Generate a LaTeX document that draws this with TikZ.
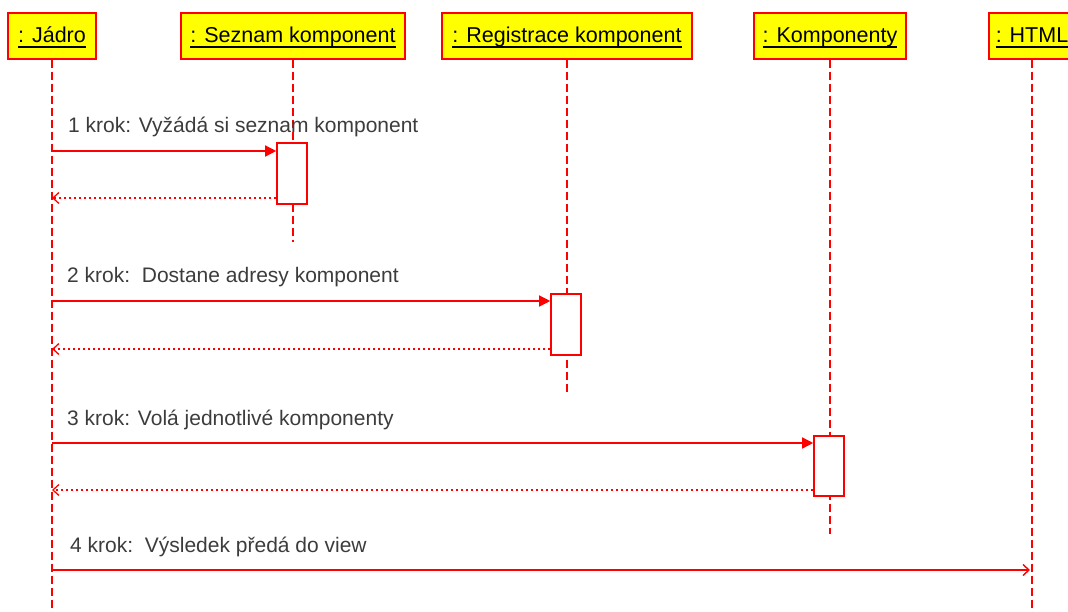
\documentclass[tikz,border=0pt]{standalone}
\usepackage{fontspec}
\setmainfont{Liberation Sans}
\usetikzlibrary{arrows.meta}
\definecolor{umlred}{HTML}{FF0000}
\definecolor{umlyellow}{HTML}{FFFF00}
\definecolor{msggray}{HTML}{3C3C3C}
% underlined object name, rule at a fixed depth below the baseline
\newcommand\objname[1]{\setbox0\hbox{#1}\rlap{\rule[-4.6pt]{\wd0}{1.3pt}}\box0}
\begin{document}
\begin{tikzpicture}[x=1pt,y=-1pt,
  obj/.style={draw=umlred, fill=umlyellow, line width=1.3pt, minimum height=46pt,
    inner sep=0pt, text height=16pt, text depth=2pt, text=black,
    font=\fontsize{21.5}{24}\selectfont},
  life/.style={draw=umlred, line width=1.3pt, dash pattern=on 8pt off 4pt},
  act/.style={draw=umlred, fill=white, line width=1.6pt, minimum width=30pt,
    minimum height=61pt, inner sep=0pt},
  call/.style={draw=umlred, line width=1.4pt, -{Triangle[length=11pt,width=11pt]}},
  ret/.style={draw=umlred, line width=1.3pt, dash pattern=on 2pt off 3pt,
    -{Straight Barb[length=6pt,width=11pt]}},
  async/.style={draw=umlred, line width=1.4pt, -{Straight Barb[length=6pt,width=11pt]}},
  msg/.style={anchor=base west, inner sep=0pt, text=msggray,
    font=\fontsize{21}{24}\selectfont}]
\useasboundingbox (0,0) rectangle (1068,612);
\clip (0,0) rectangle (1068,612);

% object heads
\node[obj, minimum width=88pt]  (jadro) at (52,36)   {\objname{: Jádro}};
\node[obj, minimum width=224pt] (sez)   at (293,36)  {\objname{: Seznam komponent}};
\node[obj, minimum width=250pt] (reg)   at (567,36)  {\objname{: Registrace komponent}};
\node[obj, minimum width=152pt] (komp)  at (830,36)  {\objname{: Komponenty}};
\node[obj, minimum width=86pt]  (html)  at (1032,36) {\objname{: HTML}};

% lifeline ends
\coordinate (jadroEnd) at (52,612);
\coordinate (sezEnd)   at (293,242);
\coordinate (regEnd)   at (567,393);
\coordinate (kompEnd)  at (830,534);
\coordinate (htmlEnd)  at (1032,612);

\draw[life] (jadro.south) -- (jadroEnd);
\draw[life] (sez.south)   -- (sezEnd);
\draw[life] (reg.south)   -- (regEnd);
\draw[life] (komp.south)  -- (kompEnd);
\draw[life] (html.south)  -- (htmlEnd);

% activations
\node[act] (act1) at (292,173.5) {};
\node[act] (act2) at (566,324.5) {};
\node[act, minimum height=60pt] (act3) at (829,466) {};

% message anchors on the caller's lifeline
\coordinate (c1) at (52,151);
\coordinate (r1) at (52,198);
\coordinate (c2) at (52,301);
\coordinate (r2) at (52,349);
\coordinate (c3) at (52,443);
\coordinate (r3) at (52,490);
\coordinate (c4) at (52,570);

% messages
\draw[call] (c1) -- (act1.west |- c1);
\draw[ret]  (act1.west |- r1) -- (r1);
\draw[call] (c2) -- (act2.west |- c2);
\draw[ret]  (act2.west |- r2) -- (r2);
\draw[call] (c3) -- (act3.west |- c3);
\draw[ret]  (act3.west |- r3) -- (r3);
\draw[async, shorten >=2pt] (c4) -- (html.south |- c4);

% message labels
\node[msg] (m1) at (68,133) {1 krok: Vyžádá si seznam komponent};
\node[msg] (m2) at (67,283) {2 krok:\ \ Dostane adresy komponent};
\node[msg] (m3) at (67,425) {3 krok: Volá jednotlivé komponenty};
\node[msg] (m4) at (70,552) {4 krok:\ \ Výsledek předá do view};
\end{tikzpicture}
\end{document}
